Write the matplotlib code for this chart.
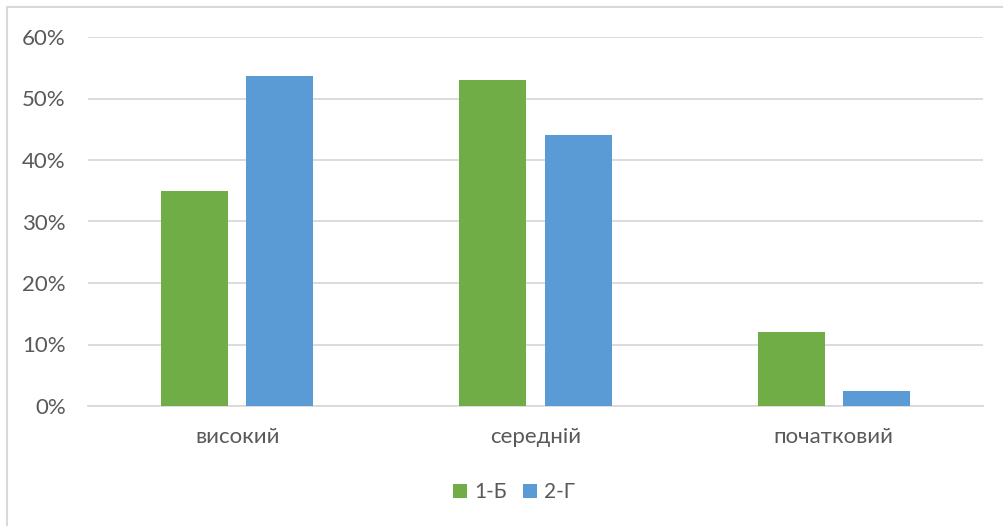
import matplotlib.pyplot as plt
from matplotlib.patches import Rectangle
from matplotlib.ticker import PercentFormatter
import numpy as np

plt.rcParams['font.family'] = ['Lato', 'DejaVu Sans']

levels = ['високий', 'середній', 'початковий']
groups = ['1-Б', '2-Г']
group_1b = [0.35, 0.53, 0.12]
group_2g = [0.536, 0.44, 0.024]
colors = ['#70AD47', '#5B9BD5']
text_color = '#595959'
grid_color = '#D9D9D9'

W, H = 1004, 526
fig = plt.figure(figsize=(W / 100, H / 100), dpi=100)
ax = fig.add_axes([88 / W, 1 - 406 / H, (983 - 88) / W, (406 - 37) / H])

# outer chart frame (right and bottom edges fall outside the image)
fig.patches.append(Rectangle((7 / W, -0.1), 1.2, (H - 7) / H + 0.1,
                             transform=fig.transFigure, fill=False,
                             edgecolor=grid_color, linewidth=1.5))

x = np.arange(len(levels))
width = 0.225
offset = 0.143
ax.bar(x - offset, group_1b, width, color=colors[0], label=groups[0], zorder=3)
ax.bar(x + offset, group_2g, width, color=colors[1], label=groups[1], zorder=3)

ax.set_xlim(-0.5, 2.5)
ax.set_ylim(0, 0.6)
ax.set_yticks(np.arange(0, 0.61, 0.1))
ax.yaxis.set_major_formatter(PercentFormatter(1.0, decimals=0))
ax.set_xticks(x)
ax.set_xticklabels(levels)

ax.grid(axis='y', color=grid_color, linewidth=1.3, zorder=0)
for side in ['top', 'right', 'left']:
    ax.spines[side].set_visible(False)
ax.spines['bottom'].set_color(grid_color)
ax.spines['bottom'].set_linewidth(1.3)
ax.tick_params(axis='both', length=0, labelsize=16, labelcolor=text_color)
ax.tick_params(axis='y', pad=16)
ax.tick_params(axis='x', pad=15)

ax.legend(loc='center', bbox_to_anchor=(0.512, 1 - 492 / H), bbox_transform=fig.transFigure,
          ncol=2, frameon=False, fontsize=15, labelcolor=text_color,
          handlelength=0.65, handleheight=0.65, handletextpad=0.35, columnspacing=0.8)

fig.savefig('out.png', dpi=100, facecolor='white')
